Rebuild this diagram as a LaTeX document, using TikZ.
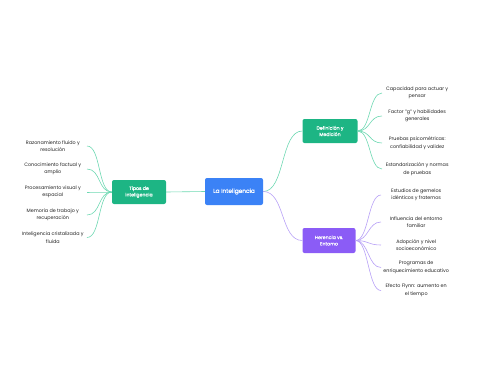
\documentclass[tikz,border=0pt]{standalone}
\usepackage{fontspec}
\setmainfont{Poppins}
\newfontfamily\medfont[FakeBold=0.8]{Poppins}
\definecolor{cblue}{HTML}{3B82F6}
\definecolor{cgreen}{HTML}{1DB584}
\definecolor{cpurple}{HTML}{8B5CF6}
\definecolor{lgreen}{HTML}{6ED8B2}
\definecolor{lpurple}{HTML}{B7A0F6}
\definecolor{txt}{HTML}{222222}
\begin{document}
\begin{tikzpicture}[x=1pt,y=-1pt,
  box/.style={rounded corners=2pt, text=white, align=center, inner sep=0pt, font=\medfont\fontsize{4.7}{6.4}\selectfont},
  leafL/.style={anchor=east, minimum width=68pt, align=center, inner sep=0pt, text=txt, font=\fontsize{4.85}{7.5}\selectfont},
  leafR/.style={anchor=west, minimum width=70pt, align=center, inner sep=0pt, text=txt, font=\fontsize{4.85}{7.5}\selectfont},
  gline/.style={draw=lgreen, line width=0.6pt},
  pline/.style={draw=lpurple, line width=0.6pt}]
\useasboundingbox (0,0) rectangle (480,384);
% main nodes
\node[box, fill=cblue, minimum width=58pt, minimum height=27pt, font=\medfont\fontsize{5.8}{7}\selectfont] (root) at (234,191.5) {La Inteligencia};
\node[box, fill=cgreen, minimum width=54pt, minimum height=24pt] (tipos) at (139,192) {Tipos de\\inteligencia};
\node[box, fill=cgreen, minimum width=55pt, minimum height=24pt] (def) at (330,131) {Definición y\\Medición};
\node[box, fill=cpurple, minimum width=53pt, minimum height=25pt] (her) at (329,240.5) {Herencia vs.\\Entorno};
% left leaves
\node[leafL] (l1) at (87,146) {Razonamiento fluido y\\resolución};
\node[leafL] (l2) at (87,169) {Conocimiento factual y\\amplio};
\node[leafL] (l3) at (87,192) {Procesamiento visual y\\espacial};
\node[leafL] (l4) at (87,215) {Memoria de trabajo y\\recuperación};
\node[leafL] (l5) at (87,237.5) {Inteligencia cristalizada y\\fluida};
% right top leaves
\node[leafR] (d1) at (382,93) {Capacidad para actuar y\\pensar};
\node[leafR] (d2) at (382,116) {Factor "g" y habilidades\\generales};
\node[leafR] (d3) at (382,143) {Pruebas psicométricas:\\confiabilidad y validez};
\node[leafR] (d4) at (382,169) {Estandarización y normas\\de pruebas};
% right bottom leaves
\node[leafR] (h1) at (381,195) {Estudios de gemelos\\idénticos y fraternos};
\node[leafR] (h2) at (381,222) {Influencia del entorno\\familiar};
\node[leafR] (h3) at (381,245) {Adopción y nivel\\socioeconómico};
\node[leafR] (h4) at (381,267.5) {Programas de\\enriquecimiento educativo};
\node[leafR] (h5) at (381,290.5) {Efecto Flynn: aumento en\\el tiempo};
% connectors
\draw[gline] (root.west) -- (tipos.east);
\draw[gline] (root.east) .. controls +(22,0) and +(-22,0) .. (def.west);
\draw[pline] (root.east) .. controls +(22,0) and +(-22,0) .. (her.west);
\foreach \n in {l1,l2,l3,l4,l5}
  \draw[gline] (tipos.west) .. controls +(-14,0) and +(14,0) .. (\n.east);
\foreach \n in {d1,d2,d3,d4}
  \draw[gline] (def.east) .. controls +(13,0) and +(-13,0) .. (\n.west);
\foreach \n in {h1,h2,h3,h4,h5}
  \draw[pline] (her.east) .. controls +(13,0) and +(-13,0) .. (\n.west);
\end{tikzpicture}
\end{document}
